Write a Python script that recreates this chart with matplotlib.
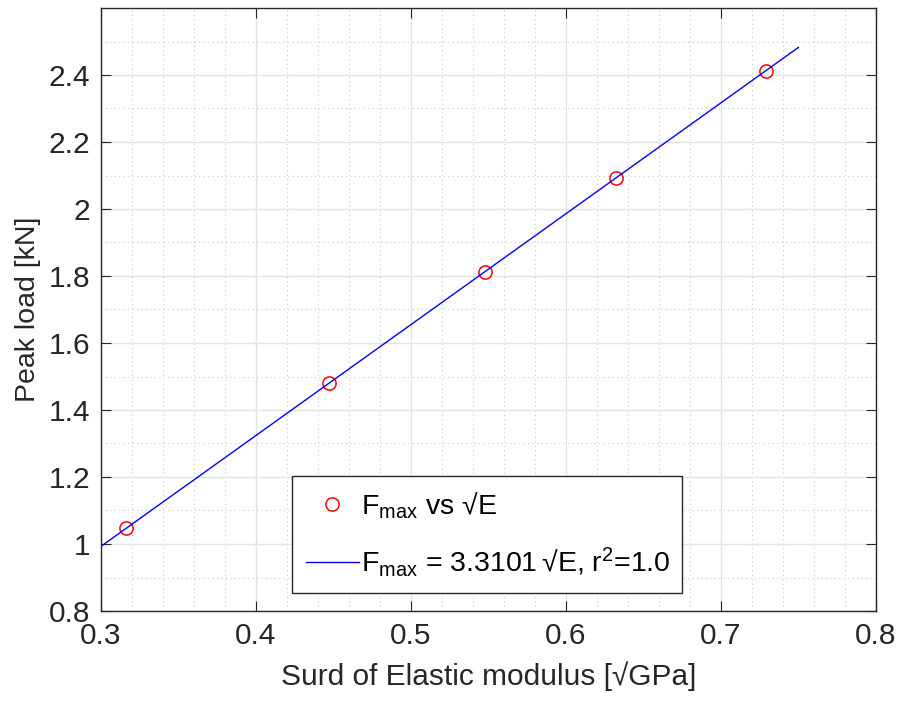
import matplotlib
matplotlib.use("Agg")
import matplotlib.pyplot as plt
import numpy as np
from matplotlib.ticker import MultipleLocator

plt.rcParams['font.family'] = ['Liberation Sans', 'DejaVu Sans']
plt.rcParams['mathtext.default'] = 'regular'

sqrt_E = [0.316, 0.447, 0.548, 0.632, 0.729]
peak_load = [1.048, 1.481, 1.812, 2.093, 2.411]
slope = 3.3101
fit_x = [0.3, 0.75]

FS = 21.5

fig = plt.figure(figsize=(8.97, 7.04), dpi=100)
ax = fig.add_axes([101/897, 1-611/704, 775/897, 603/704])

ax.plot(sqrt_E, peak_load, 'o', mfc='none', mec='red', ms=9.5, mew=1.1,
        label=r'$F_{max}$ vs √E')
fx = np.array(fit_x)
ax.plot(fx, slope*fx, '-', color='blue', lw=1.0,
        label=r'$F_{max}$ = 3.3101$\,$√E, $r^{2}$=1.0')

ax.set_xlim(0.3, 0.8)
ax.set_ylim(0.8, 2.6)
ax.xaxis.set_minor_locator(MultipleLocator(0.02))
ax.yaxis.set_minor_locator(MultipleLocator(0.1))
ax.set_yticks(np.arange(0.8, 2.41, 0.2))
ax.set_yticklabels(['0.8', '1', '1.2', '1.4', '1.6', '1.8', '2', '2.2', '2.4'])
ax.set_xticks(np.arange(0.3, 0.81, 0.1))
ax.set_xticklabels(['0.3', '0.4', '0.5', '0.6', '0.7', '0.8'])

ax.grid(True, which='major', color='#e3e3e3', lw=1.0, ls='-')
ax.grid(True, which='minor', color='#c8c8c8', lw=0.8, ls=(0, (1, 3)))
ax.set_axisbelow(True)

for s in ax.spines.values():
    s.set_color('#262626')
    s.set_linewidth(1.0)
ax.tick_params(which='both', direction='in', top=True, right=True,
               color='#262626', labelsize=FS, labelcolor='#262626', pad=8)
ax.tick_params(which='major', length=7)
ax.tick_params(which='minor', length=0)

ax.set_xlabel('Surd of Elastic modulus [√GPa]', fontsize=FS, color='#262626', labelpad=8)
ax.set_ylabel('Peak load [kN]', fontsize=20.5, color='#262626', labelpad=5)

leg = ax.legend(loc='lower left', bbox_to_anchor=(0.246, 0.03, 0.504, 0.192),
                mode='expand', fontsize=20.5, handlelength=1.85, handletextpad=0.1,
                borderaxespad=0, fancybox=False, framealpha=1, edgecolor='#262626',
                labelspacing=0.85, borderpad=0.5)
leg.get_frame().set_linewidth(1.0)

fig.savefig('out.png', dpi=100)
